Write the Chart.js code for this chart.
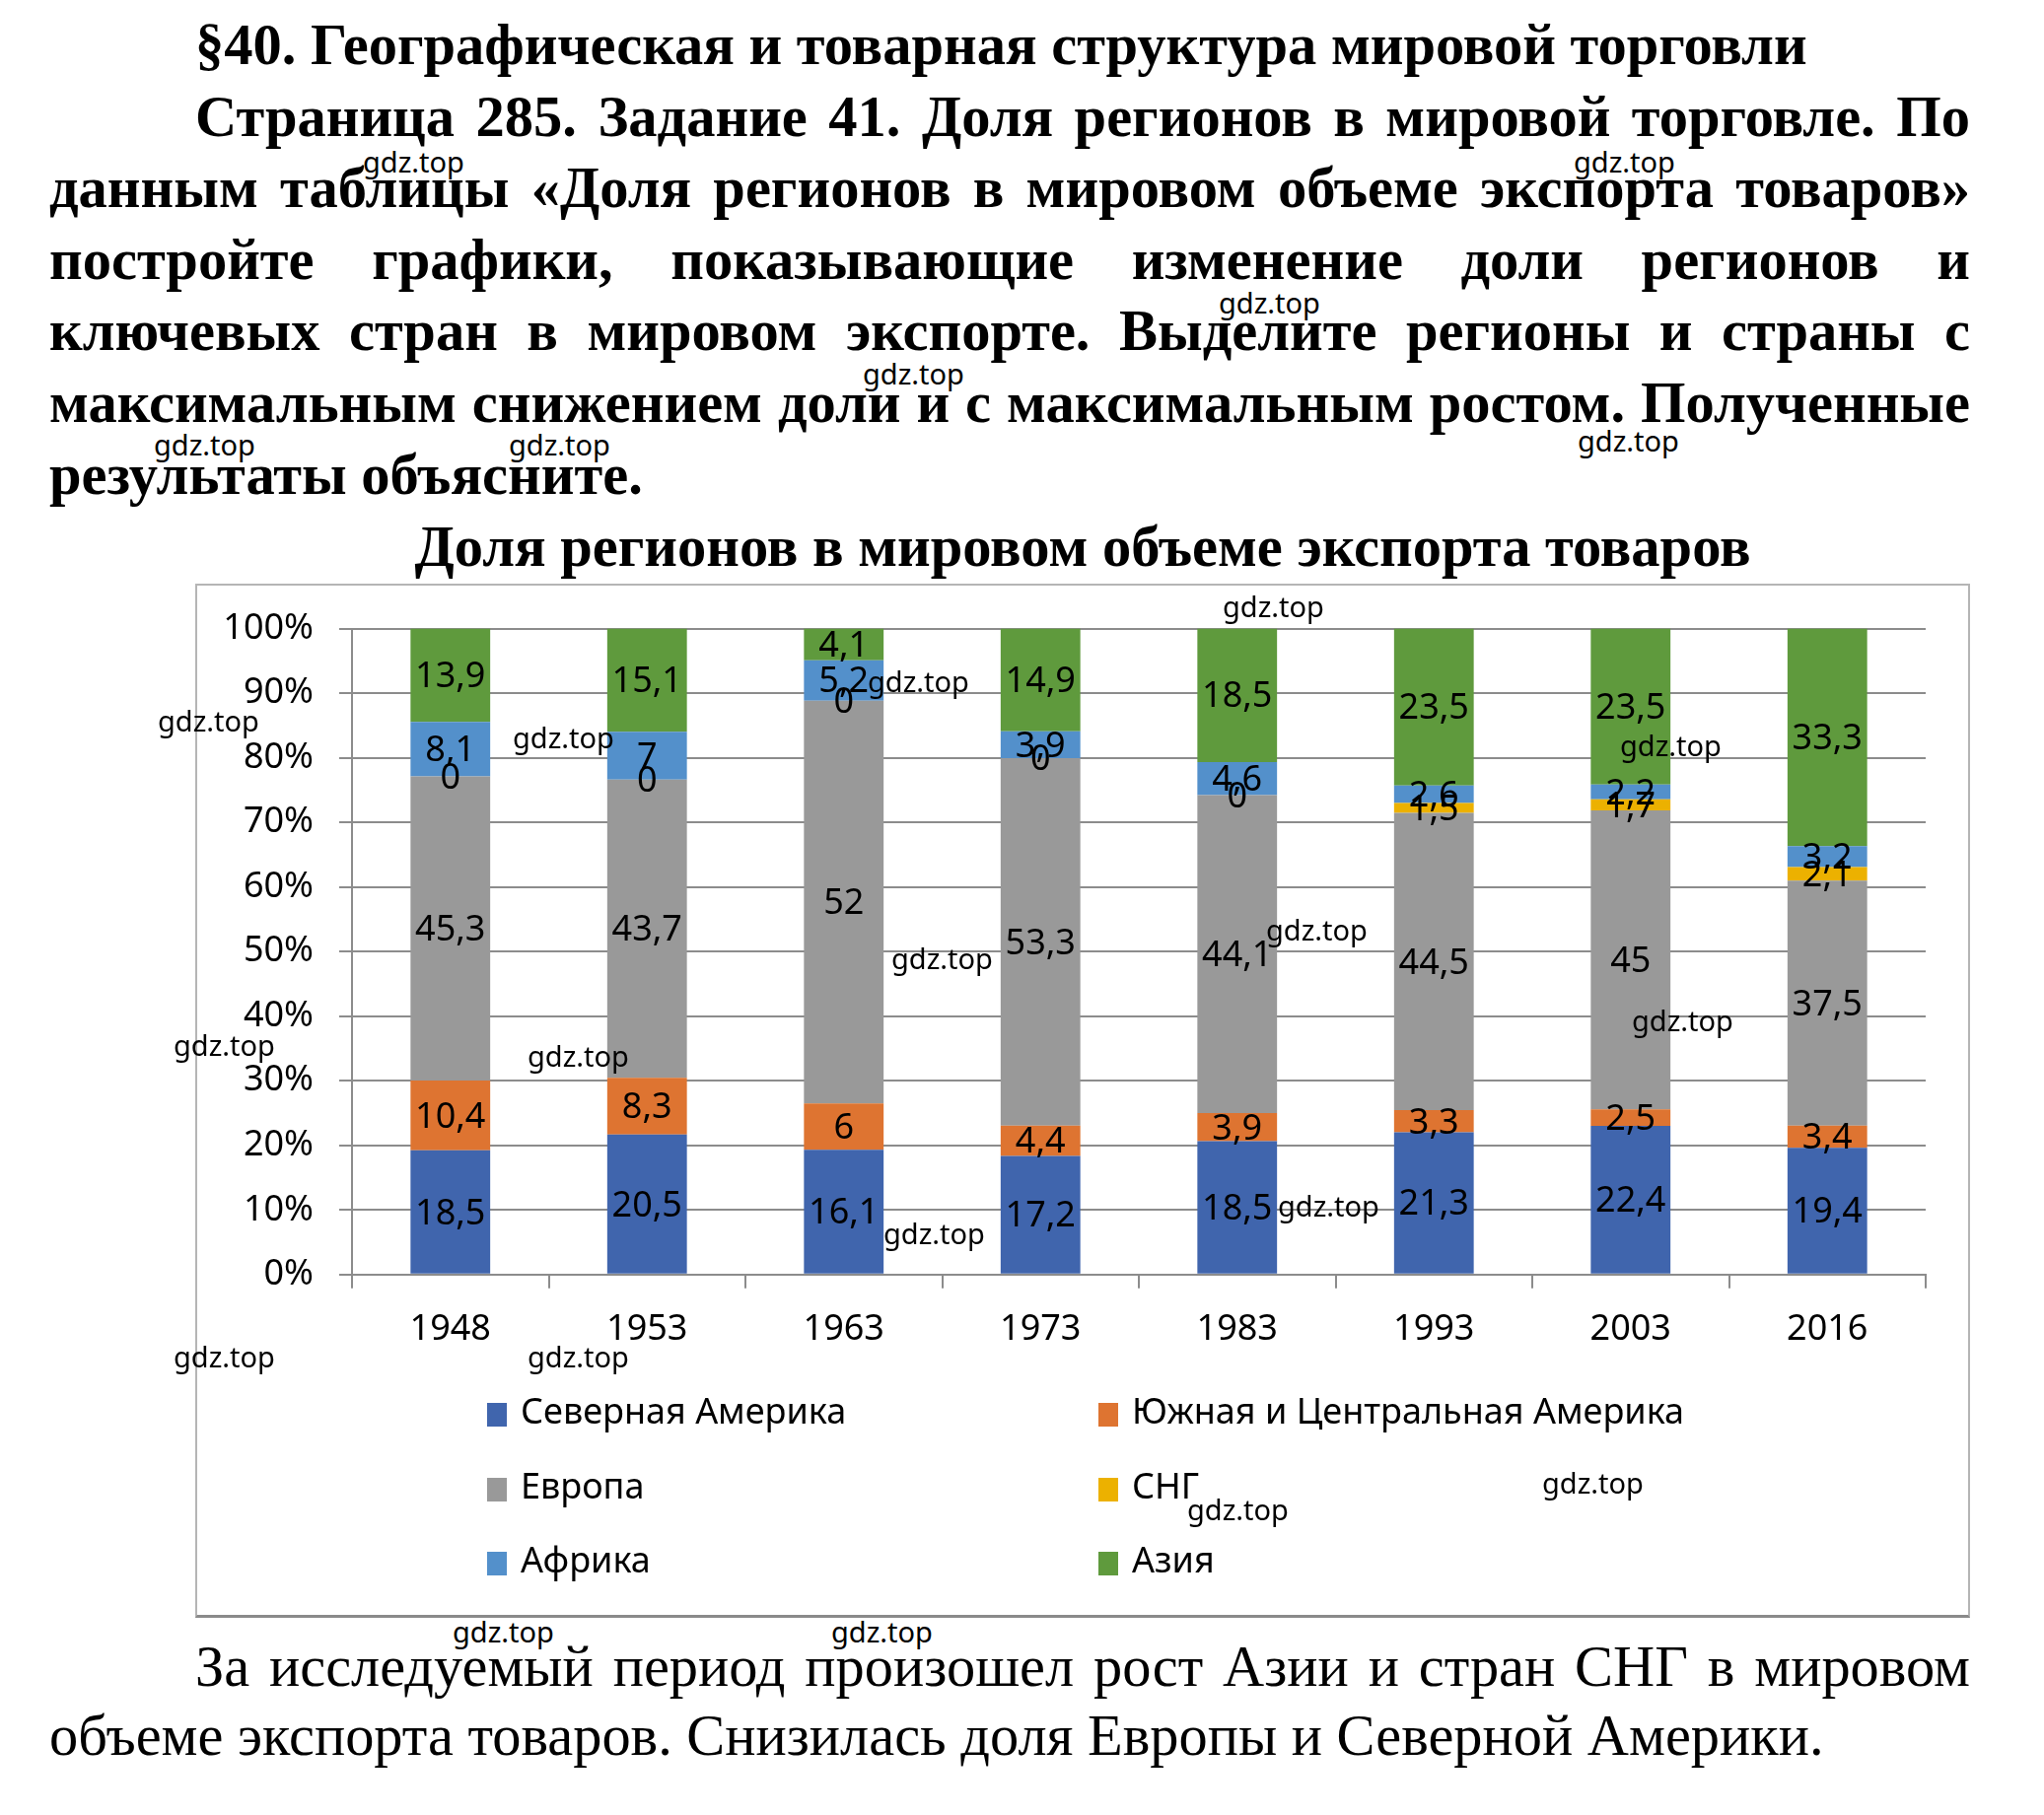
<!doctype html>
<html>
<head>
	<meta charset="utf-8">
	<title>Доля регионов в мировом объеме экспорта товаров</title>
	<script src="https://cdn.jsdelivr.net/npm/chart.js@4.4.0/dist/chart.umd.min.js"></script>
	<style>
		body {
			margin: 0;
			width: 2073px;
			height: 1841px;
			background: #fff;
			position: relative;
			overflow: hidden;
		}
		.serif {
			font-family: "Liberation Serif", "Times New Roman", serif;
			color: #000;
		}
		#head {
			position: absolute;
			left: 50px;
			top: 10px;
			width: 1948px;
			font-weight: bold;
			font-size: 58.5px;
			line-height: 72.6px;
		}
		#head div, #foot div {
			white-space: nowrap;
			text-align: justify;
			text-align-last: justify;
		}
		#head div.last, #foot div.last {
			text-align-last: left;
		}
		.indent { padding-left: 148px; }
		#ctitle {
			position: absolute;
			left: 198px;
			width: 1800px;
			top: 520px;
			text-align: center;
			font-weight: bold;
			font-size: 58.5px;
			line-height: 70px;
		}
		#box {
			position: absolute;
			left: 198px;
			top: 592px;
			width: 1800px;
			height: 1049px;
			box-sizing: border-box;
			border: 2px solid #b5b5b5;
			border-bottom: 3px solid #8a8a8a;
		}
		#box canvas {
			position: absolute;
			left: 0;
			top: -4px;
		}
		#legend {
			position: absolute;
			left: 294px;
			top: 817px;
			width: 1300px;
			font-family: "Noto Sans", "DejaVu Sans", sans-serif;
			font-size: 36px;
		}
		.item {
			position: absolute;
			white-space: nowrap;
			line-height: 40px;
		}
		.item span.sw {
			display: inline-block;
			width: 20px;
			height: 24px;
			margin-right: 14px;
			vertical-align: -3px;
		}
		#foot {
			position: absolute;
			left: 50px;
			top: 1656px;
			width: 1948px;
			font-size: 58.4px;
			line-height: 70px;
		}
		.wm {
			position: absolute;
			font-family: "Noto Sans", "DejaVu Sans", sans-serif;
			font-size: 29px;
			line-height: 30px;
			color: #000;
			white-space: nowrap;
		}
	</style>
</head>
<body>

<div id="head" class="serif">
	<div class="indent last">§40. Географическая и товарная структура мировой торговли</div>
	<div class="indent">Страница 285. Задание 41. Доля регионов в мировой торговле. По</div>
	<div>данным таблицы «Доля регионов в мировом объеме экспорта товаров»</div>
	<div>постройте графики, показывающие изменение доли регионов и</div>
	<div>ключевых стран в мировом экспорте. Выделите регионы и страны с</div>
	<div>максимальным снижением доли и с максимальным ростом. Полученные</div>
	<div class="last">результаты объясните.</div>
</div>

<div id="ctitle" class="serif">Доля регионов в мировом объеме экспорта товаров</div>

<div id="box">
	<canvas id="canvas" width="1796" height="1044"></canvas>
	<div id="legend"></div>
</div>

<div id="foot" class="serif">
	<div class="indent">За исследуемый период произошел рост Азии и стран СНГ в мировом</div>
	<div class="last">объеме экспорта товаров. Снизилась доля Европы и Северной Америки.</div>
</div>

<script>
	// годы (категории)
	var years = ['1948', '1953', '1963', '1973', '1983', '1993', '2003', '2016'];

	// доли регионов, % (как подписаны на столбцах)
	var northAmerica = [18.5, 20.5, 16.1, 17.2, 18.5, 21.3, 22.4, 19.4];
	var southAmerica = [10.4, 8.3, 6, 4.4, 3.9, 3.3, 2.5, 3.4];
	var europe = [45.3, 43.7, 52, 53.3, 44.1, 44.5, 45, 37.5];
	var cis = [0, 0, 0, 0, 0, 1.5, 1.7, 2.1];
	var africa = [8.1, 7, 5.2, 3.9, 4.6, 2.6, 2.2, 3.2];
	var asia = [13.9, 15.1, 4.1, 14.9, 18.5, 23.5, 23.5, 33.3];

	var regionNames = ['Северная Америка', 'Южная и Центральная Америка', 'Европа', 'СНГ', 'Африка', 'Азия'];
	var regionColors = ['#4065ad', '#de7431', '#999999', '#ecb100', '#5390cb', '#5f9a3d'];
	var regionValues = [northAmerica, southAmerica, europe, cis, africa, asia];

	// водяные знаки (левый край, центр по вертикали)
	var marks = [
		[368, 164], [1596, 164], [1236, 307], [875, 379], [156, 451], [516, 451],
		[1600, 447], [1240, 615], [160, 731], [520, 748], [880, 691], [1643, 756],
		[904, 972], [1284, 943], [176, 1060], [535, 1071], [1655, 1035], [896, 1251],
		[1296, 1223], [176, 1376], [535, 1376], [1564, 1504], [1204, 1531],
		[459, 1655], [843, 1655]
	];

	var font = '"Noto Sans", "DejaVu Sans", sans-serif';

	// 100% столбцы: суммы по годам
	var totals = years.map(function (y, i) {
		var s = 0;
		regionValues.forEach(function (arr) { s += arr[i]; });
		return s;
	});

	var datasets = [];
	regionNames.forEach(function (name, k) {
		datasets.push({
			label: name,
			raw: regionValues[k],
			data: regionValues[k].map(function (v, i) { return v / totals[i] * 100; }),
			backgroundColor: regionColors[k],
			borderWidth: 0,
			categoryPercentage: 1.0,
			barPercentage: 0.405
		});
	});

	var valueLabels = {
		id: 'valueLabels',
		afterDatasetsDraw: function (chart) {
			var ctx = chart.ctx;
			ctx.save();
			ctx.font = '36px ' + font;
			ctx.fillStyle = '#000';
			ctx.textAlign = 'center';
			ctx.textBaseline = 'middle';
			chart.data.datasets.forEach(function (ds, k) {
				var meta = chart.getDatasetMeta(k);
				meta.data.forEach(function (bar, i) {
					var txt = String(ds.raw[i]).replace('.', ',');
					ctx.fillText(txt, bar.x, (bar.y + bar.base) / 2 + 2);
				});
			});
			ctx.restore();
		}
	};

	var ctx = document.getElementById('canvas').getContext('2d');
	window.myBar = new Chart(ctx, {
		type: 'bar',
		data: { labels: years, datasets: datasets },
		plugins: [valueLabels],
		options: {
			responsive: false,
			animation: false,
			layout: { padding: { left: 0, right: 43, top: 36, bottom: 244 } },
			plugins: {
				legend: { display: false },
				title: { display: false },
				tooltip: { enabled: false }
			},
			scales: {
				x: {
					stacked: true,
					offset: true,
					grid: {
						display: true,
						offset: true,
						drawOnChartArea: false,
						drawTicks: true,
						tickLength: 14,
						color: '#8c8c8c',
						lineWidth: 2
					},
					border: { display: true, color: '#8c8c8c', width: 2 },
					ticks: {
						color: '#000',
						padding: 20,
						font: { family: font, size: 36 }
					}
				},
				y: {
					stacked: true,
					min: 0,
					max: 100,
					afterFit: function (s) { s.width = 157; },
					grid: {
						color: '#8c8c8c',
						lineWidth: 2,
						tickLength: 13
					},
					border: { display: true, color: '#8c8c8c', width: 2 },
					ticks: {
						stepSize: 10,
						color: '#000',
						padding: 26,
						font: { family: font, size: 36 },
						callback: function (v) { return v + '%'; }
					}
				}
			}
		}
	});

	// легенда в две колонки
	var legend = document.getElementById('legend');
	regionNames.forEach(function (name, k) {
		var it = document.createElement('div');
		it.className = 'item';
		it.style.left = (k % 2 === 0 ? 0 : 620) + 'px';
		it.style.top = (Math.floor(k / 2) * 75.5) + 'px';
		it.innerHTML = '<span class="sw" style="background:' + regionColors[k] + '"></span>' + name;
		legend.appendChild(it);
	});

	marks.forEach(function (m) {
		var el = document.createElement('div');
		el.className = 'wm';
		el.style.left = m[0] + 'px';
		el.style.top = (m[1] - 15) + 'px';
		el.textContent = 'gdz.top';
		document.body.appendChild(el);
	});
</script>
</body>
</html>
